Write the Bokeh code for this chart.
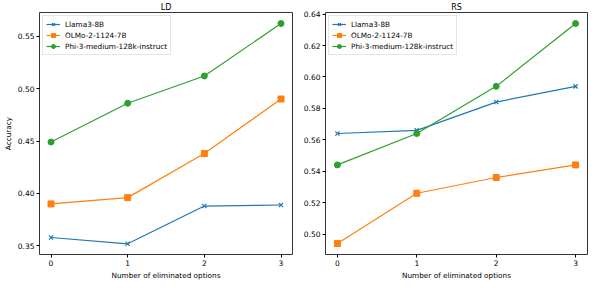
from bokeh.plotting import figure
from bokeh.layouts import row
from bokeh.models import FixedTicker, NumeralTickFormatter, Range1d
from bokeh.embed import file_html
from bokeh.resources import INLINE

x_vals = [0, 1, 2, 3]
series_names = ["Llama3-8B", "OLMo-2-1124-7B", "Phi-3-medium-128k-instruct"]
colors = ["#1f77b4", "#ff7f0e", "#2ca02c"]
markers = ["x", "square", "circle"]

ld_llama = [0.358, 0.352, 0.388, 0.389]
ld_olmo = [0.390, 0.396, 0.438, 0.490]
ld_phi = [0.449, 0.486, 0.512, 0.562]

rs_llama = [0.564, 0.566, 0.584, 0.594]
rs_olmo = [0.494, 0.526, 0.536, 0.544]
rs_phi = [0.544, 0.564, 0.594, 0.634]

ld_yticks = [0.35, 0.40, 0.45, 0.50, 0.55]
rs_yticks = [0.50, 0.52, 0.54, 0.56, 0.58, 0.60, 0.62, 0.64]

FONT = "DejaVu Sans"


def make_panel(title, series, yticks, yrange, width, bl, br, ylabel=None):
    p = figure(width=width, height=282, output_backend="svg", toolbar_location=None,
               x_range=Range1d(-0.15, 3.15), y_range=Range1d(*yrange),
               min_border_left=bl, min_border_right=br, min_border_top=10, min_border_bottom=25)
    p.title.text = title
    p.title.align = "center"
    p.title.text_font = FONT
    p.title.text_font_style = "normal"
    p.title.text_font_size = "8px"
    p.title.text_color = "black"
    p.title.standoff = 1
    p.xgrid.visible = False
    p.ygrid.visible = False
    p.outline_line_color = "#333333"
    p.outline_line_width = 1
    p.background_fill_color = "white"
    p.border_fill_color = "white"
    for ax in (p.xaxis[0], p.yaxis[0]):
        ax.major_label_text_font = FONT
        ax.major_label_text_font_size = "7.5px"
        ax.major_label_text_color = "black"
        ax.axis_label_text_font = FONT
        ax.axis_label_text_font_size = "7.3px"
        ax.axis_label_text_font_style = "normal"
        ax.axis_label_text_color = "black"
        ax.minor_tick_line_color = None
        ax.major_tick_in = 0
        ax.major_tick_out = 3
        ax.major_label_standoff = 2
        ax.axis_label_standoff = 2
        ax.axis_line_color = None
        ax.major_tick_line_color = "black"
    p.xaxis.ticker = FixedTicker(ticks=x_vals)
    p.yaxis.ticker = FixedTicker(ticks=yticks)
    p.yaxis.formatter = NumeralTickFormatter(format="0.00")
    p.xaxis.axis_label = "Number of eliminated options"
    if ylabel:
        p.yaxis.axis_label = ylabel
    for name, ys, c, m in zip(series_names, series, colors, markers):
        p.line(x_vals, ys, color=c, line_width=1.2, legend_label=name)
        if m == "x":
            p.scatter(x_vals, ys, marker=m, size=6, line_color=c, line_width=1.2, legend_label=name)
        else:
            p.scatter(x_vals, ys, marker=m, size=6, fill_color=c, line_color=c, legend_label=name)
    lg = p.legend[0]
    lg.location = "top_left"
    lg.margin = 3
    lg.padding = 3
    lg.spacing = 1
    lg.label_text_font = FONT
    lg.label_text_font_size = "7.3px"
    lg.label_text_color = "black"
    lg.label_height = 10
    lg.glyph_height = 10
    lg.glyph_width = 14
    lg.label_standoff = 5
    lg.border_line_color = "#cccccc"
    lg.background_fill_alpha = 0.85
    return p


p1 = make_panel("LD", [ld_llama, ld_olmo, ld_phi], ld_yticks, (0.3418, 0.5725), 300, 34, 8, "Accuracy")
p2 = make_panel("RS", [rs_llama, rs_olmo, rs_phi], rs_yticks, (0.487, 0.641), 290, 24, 3)

p = row(p1, p2)
open("out.html", "w").write(file_html(p, INLINE))
